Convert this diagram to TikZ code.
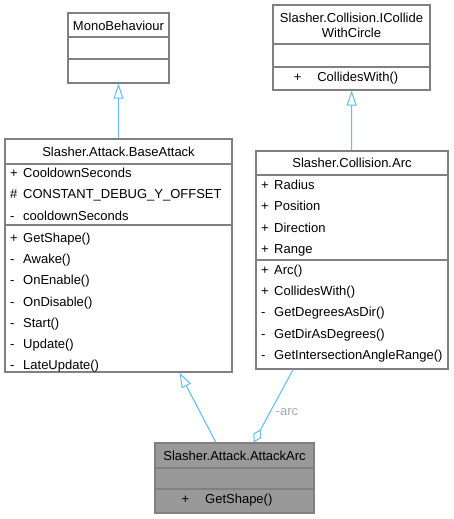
\documentclass[tikz,border=0pt]{standalone}
\usepackage{fontspec}
\setmainfont{Liberation Sans}
\usetikzlibrary{arrows.meta}
\definecolor{edgeblue}{HTML}{63B8FF}
\definecolor{boxgray}{HTML}{808080}
\definecolor{labelgray}{HTML}{A8A8A8}
\newcommand{\vis}[2]{\makebox[13pt][l]{#1}#2}
\begin{document}
\begin{tikzpicture}[x=1pt,y=-1pt,
  box/.style={draw=boxgray,line width=1.2pt,fill=white,inner sep=0pt},
  title/.style={font=\fontsize{13}{15}\selectfont,align=center,inner sep=0pt},
  member/.style={font=\fontsize{13}{15}\selectfont,anchor=west,inner sep=0pt,text height=10pt,text depth=3pt},
  inherit/.style={draw=edgeblue,line width=1pt,-{Triangle[open,length=15pt,width=10pt]}},
  aggr/.style={draw=edgeblue,line width=1pt,{Diamond[open,length=15pt,width=9pt]}-}]
\useasboundingbox (0,0) rectangle (454,519);
% MonoBehaviour
\node[box,minimum width=101pt,minimum height=70pt] (mono) at (118.5,48) {};
\draw[boxgray,line width=1.2pt] (68,37) -- (169,37);
\draw[boxgray,line width=1.2pt] (68,59) -- (169,59);
\node[title] (monot) at (118.5,25.5) {MonoBehaviour};
% ICollideWithCircle
\node[box,minimum width=157pt,minimum height=85pt] (icwc) at (351.5,47.5) {};
\draw[boxgray,line width=1.2pt] (273,44) -- (430,44);
\draw[boxgray,line width=1.2pt] (273,67) -- (430,67);
\node[title] (icwct) at (351.5,25) {Slasher.Collision.ICollide\\WithCircle};
\node[title] (icwcm) at (346,78.5) {+\hspace{16pt}CollidesWith()};
% BaseAttack
\node[box,minimum width=227pt,minimum height=233pt] (base) at (118.5,255.5) {};
\draw[boxgray,line width=1.2pt] (5,164) -- (232,164);
\draw[boxgray,line width=1.2pt] (5,225) -- (232,225);
\node[title] (baset) at (118.5,152) {Slasher.Attack.BaseAttack};
\foreach \t [count=\i] in {\vis{+}{CooldownSeconds},\vis{\#}{CONSTANT\_DEBUG\_Y\_OFFSET},\vis{-}{cooldownSeconds}}
  \node[member] (basea\i) at (10,{174+21.3*(\i-1)}) {\t};
\foreach \t [count=\i] in {\vis{+}{GetShape()},\vis{-}{Awake()},\vis{-}{OnEnable()},\vis{-}{OnDisable()},\vis{-}{Start()},\vis{-}{Update()},\vis{-}{LateUpdate()}}
  \node[member] (basem\i) at (10,{239+21.2*(\i-1)}) {\t};
% Arc
\node[box,minimum width=192pt,minimum height=218pt] (arc) at (352,260) {};
\draw[boxgray,line width=1.2pt] (256,175) -- (448,175);
\draw[boxgray,line width=1.2pt] (256,260) -- (448,260);
\node[title] (arct) at (352,163) {Slasher.Collision.Arc};
\foreach \t [count=\i] in {\vis{+}{Radius},\vis{+}{Position},\vis{+}{Direction},\vis{+}{Range}}
  \node[member] (arca\i) at (261,{186+21.3*(\i-1)}) {\t};
\foreach \t [count=\i] in {\vis{+}{Arc()},\vis{+}{CollidesWith()},\vis{-}{GetDegreesAsDir()},\vis{-}{GetDirAsDegrees()},\vis{-}{GetIntersectionAngleRange()}}
  \node[member] (arcm\i) at (261,{271+21.2*(\i-1)}) {\t};
% AttackArc
\node[box,fill=black!40,minimum width=159pt,minimum height=70pt] (aarc) at (234.5,478) {};
\draw[boxgray,line width=1.2pt] (155,468) -- (314,468);
\draw[boxgray,line width=1.2pt] (155,489) -- (314,489);
\node[title] (aarct) at (234.5,456) {Slasher.Attack.AttackArc};
\node[title] (aarcm) at (227,500.5) {+\hspace{16pt}GetShape()};
% edges
\draw[inherit] (base) -- (mono);
\draw[inherit] (arc) -- (icwc);
\draw[inherit] (aarc) -- (base);
\draw[aggr] (aarc) -- node[pos=0.42,right=5pt,font=\fontsize{13}{15}\selectfont,text=labelgray,inner sep=0pt] (arclbl) {-arc} (arc);
\end{tikzpicture}
\end{document}
